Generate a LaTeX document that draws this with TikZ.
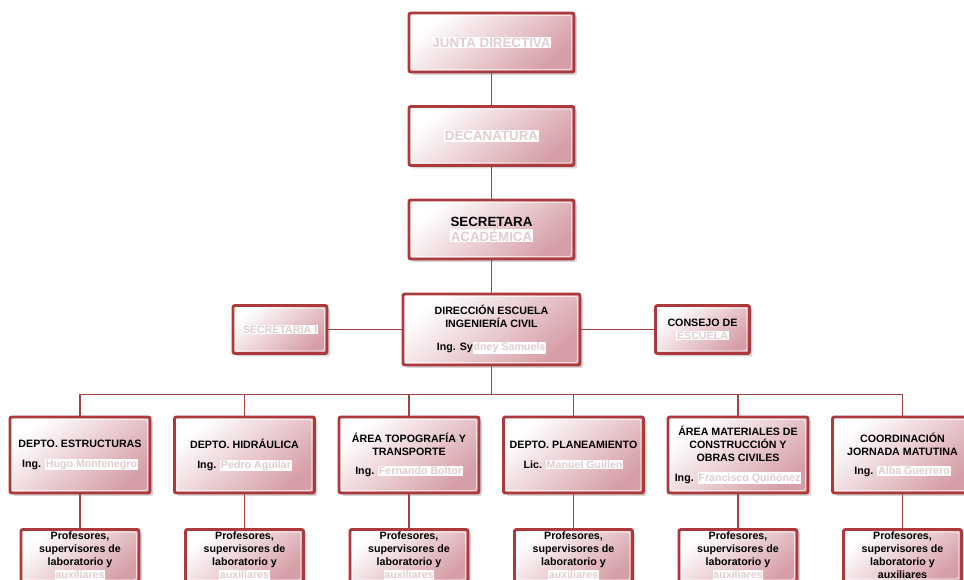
\documentclass[tikz,border=0pt]{standalone}
\usepackage{fontspec}
\setmainfont{Liberation Sans}
\usepackage{xcolor}
\usetikzlibrary{shadows}
\definecolor{boxred}{RGB}{172,58,60}
\definecolor{linered}{RGB}{160,68,68}
\definecolor{boxpink}{RGB}{214,158,166}
\definecolor{hltext}{RGB}{226,204,208}
\newcommand{\hl}[1]{{\setlength{\fboxsep}{0.6pt}\colorbox{white}{\textcolor{hltext}{#1}}}}

\begin{document}
\begin{tikzpicture}[x=0.75pt,y=-0.75pt,
  orgbox/.style={draw=boxred, line width=2.2pt, rounded corners=1.5pt,
    top color=white, bottom color=boxpink, shading angle=40,
    drop shadow={shadow xshift=2.2pt, shadow yshift=-2.2pt, fill=black!30, opacity=.55},
    path picture={\draw[white, line width=0.5pt]
      ([shift={(2.6,2.6)}]path picture bounding box.north west) rectangle
      ([shift={(-2.6,-2.6)}]path picture bounding box.south east);},
    align=center, inner sep=1.5pt, text=black,
    font=\fontsize{8}{9.75}\selectfont\bfseries},
  topbox/.style={orgbox, minimum width=123.75pt, minimum height=44.25pt,
    font=\fontsize{10}{11.5}\selectfont\bfseries},
  dirbox/.style={orgbox, minimum width=132.75pt, minimum height=53.25pt},
  sidebox/.style={orgbox, minimum width=70.5pt, minimum height=36pt},
  deptbox/.style={orgbox, minimum width=105pt, minimum height=57pt},
  profbox/.style={orgbox, minimum width=88.5pt, anchor=north, inner ysep=2pt},
  conn/.style={draw=linered, line width=1.1pt}]
\useasboundingbox (0,0) rectangle (964,579);
\clip (0,0) rectangle (964,579);

\node[topbox] (junta) at (491.5,42.5) {\hl{JUNTA DIRECTIVA}};
\node[topbox] (decana) at (491.5,136) {\hl{DECANATURA}};
\node[topbox] (secac) at (491.5,229.5) {SECRETARA\\\hl{ACADÉMICA}};
\node[dirbox] (dir) at (491.5,329.5) {DIRECCIÓN ESCUELA\\INGENIERÍA CIVIL\\[7.5pt]Ing. Sy\hl{dney Samuels}};
\node[sidebox] (secre) at (280,329.5) {\hl{SECRETARIA I}};
\node[sidebox] (consejo) at (702.5,329.5) {CONSEJO DE\\\hl{ESCUELA}};

\node[deptbox] (estr) at (80,455) {DEPTO. ESTRUCTURAS\\[5pt]Ing. \hl{Hugo Montenegro}};
\node[deptbox] (hidr) at (244.5,455) {DEPTO. HIDRÁULICA\\[5pt]Ing. \hl{Pedro Aguilar}};
\node[deptbox] (topo) at (409,455) {ÁREA TOPOGRAFÍA Y\\TRANSPORTE\\[5pt]Ing. \hl{Fernando Boltor}};
\node[deptbox] (plan) at (573.5,455) {DEPTO. PLANEAMIENTO\\[5pt]Lic. \hl{Manuel Guillen}};
\node[deptbox] (mate) at (738,455) {ÁREA MATERIALES DE\\CONSTRUCCIÓN Y\\OBRAS CIVILES\\[5pt]Ing. \hl{Francisco Quiñónez}};
\node[deptbox] (coord) at (902.5,455) {COORDINACIÓN\\JORNADA MATUTINA\\[5pt]Ing. \hl{Alba Guerrero}};

\node[profbox] (prof1) at (80,528) {Profesores,\\supervisores de\\laboratorio y\\\hl{auxiliares}};
\node[profbox] (prof2) at (244.5,528) {Profesores,\\supervisores de\\laboratorio y\\\hl{auxiliares}};
\node[profbox] (prof3) at (409,528) {Profesores,\\supervisores de\\laboratorio y\\\hl{auxiliares}};
\node[profbox] (prof4) at (573.5,528) {Profesores,\\supervisores de\\laboratorio y\\\hl{auxiliares}};
\node[profbox] (prof5) at (738,528) {Profesores,\\supervisores de\\laboratorio y\\\hl{auxiliares}};
\node[profbox] (prof6) at (902.5,528) {Profesores,\\supervisores de\\laboratorio y\\auxiliares};

% chain of command
\draw[conn] (junta) -- (decana);
\draw[conn] (decana) -- (secac);
\draw[conn] (secac) -- (dir);
\draw[conn] (secre) -- (dir);
\draw[conn] (dir) -- (consejo);

% departments
\draw[conn] (dir.south) -- ++(0,28) -| (estr.north);
\draw[conn] (dir.south) -- ++(0,28) -| (hidr.north);
\draw[conn] (dir.south) -- ++(0,28) -| (topo.north);
\draw[conn] (dir.south) -- ++(0,28) -| (plan.north);
\draw[conn] (dir.south) -- ++(0,28) -| (mate.north);
\draw[conn] (dir.south) -- ++(0,28) -| (coord.north);

\draw[conn] (estr) -- (prof1);
\draw[conn] (hidr) -- (prof2);
\draw[conn] (topo) -- (prof3);
\draw[conn] (plan) -- (prof4);
\draw[conn] (mate) -- (prof5);
\draw[conn] (coord) -- (prof6);
\end{tikzpicture}
\end{document}
